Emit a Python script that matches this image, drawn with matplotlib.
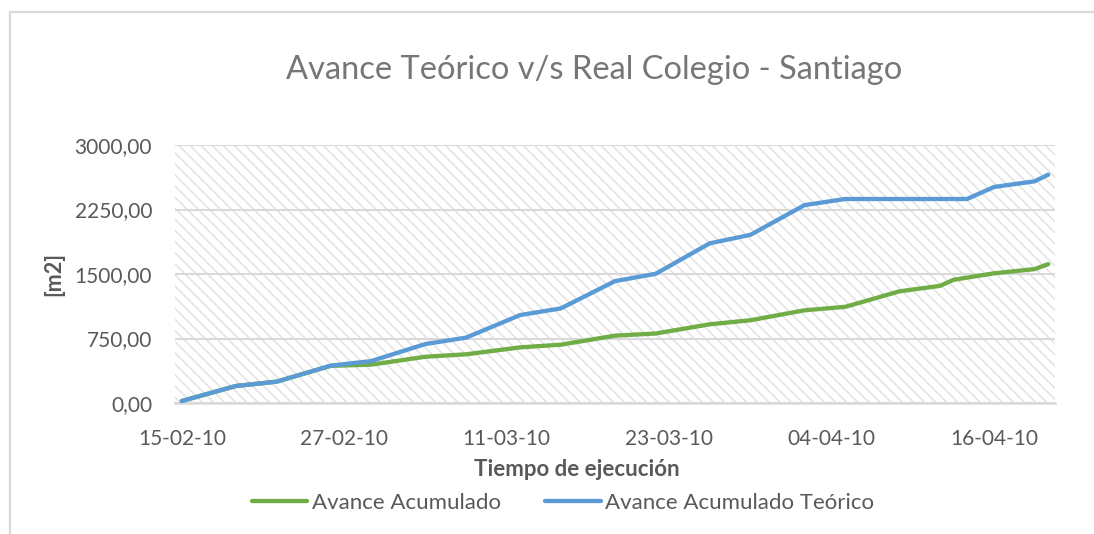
import matplotlib
matplotlib.use("Agg")
import matplotlib.pyplot as plt
import matplotlib.dates as mdates
from matplotlib.patches import Rectangle
import pandas as pd
import numpy as np

# fechas de los puntos de quiebre y avance acumulado [m2]
fechas = ['2010-02-15', '2010-02-19', '2010-02-22', '2010-02-26', '2010-03-01',
          '2010-03-05', '2010-03-08', '2010-03-12', '2010-03-15', '2010-03-19',
          '2010-03-22', '2010-03-26', '2010-03-29', '2010-04-02', '2010-04-05',
          '2010-04-09', '2010-04-12', '2010-04-13', '2010-04-14', '2010-04-16',
          '2010-04-19', '2010-04-20']
avance_real = [23, 198, 248, 432, 446, 538, 566, 647, 678, 783, 808, 915, 962,
               1078, 1118, 1298, 1362, 1432, 1458, 1508, 1557, 1615]
avance_teorico = [23, 198, 248, 434, 488, 686, 760, 1023, 1100, 1417, 1502, 1857,
                  1955, 2301, 2372, 2372, 2372, 2372, 2372, 2512, 2578, 2655]
ticks_y = [0, 750, 1500, 2250, 3000]

verde = "#70AD47"
azul = "#5B9BD5"
gris = "#595959"
font = "Lato"

x = pd.to_datetime(fechas)

fig = plt.figure(figsize=(10.94, 5.34), dpi=100)
fig.add_artist(Rectangle((10/1094, -0.1), 2, 1 - 12/534 + 0.1, transform=fig.transFigure,
                         fill=False, edgecolor="#d9d9d9", linewidth=1.6))

ax = fig.add_axes([175/1094, 1 - 403/534, 880/1094, 258/534])
plt.rcParams['hatch.linewidth'] = 1.1
ax.add_patch(Rectangle((0, 0), 1, 1, transform=ax.transAxes, facecolor="none",
                       edgecolor="#e2e2e2", linewidth=0, hatch="\\\\\\", zorder=0))

ax.plot(x, avance_real, color=verde, linewidth=3.1, label="Avance Acumulado",
        solid_capstyle="round", solid_joinstyle="round", zorder=3)
ax.plot(x, avance_teorico, color=azul, linewidth=3.1, label="Avance Acumulado Teórico",
        solid_capstyle="round", solid_joinstyle="round", zorder=4)

inicio = x[0] - pd.Timedelta(hours=12)
fin = x[-1] + pd.Timedelta(hours=12)
ax.set_xlim(inicio, fin)
ax.set_ylim(0, 3000)

ticks_x = pd.date_range(x[0], x[-1], freq="12D")
ax.set_xticks(ticks_x)
ax.xaxis.set_major_formatter(mdates.DateFormatter("%d-%m-%y"))
ax.set_yticks(ticks_y)
ax.set_yticklabels([("%.2f" % v).replace(".", ",") for v in ticks_y])
ax.tick_params(length=0, labelsize=15, labelcolor=gris)
ax.tick_params(axis="y", pad=16.5)
ax.tick_params(axis="x", pad=19)
for lbl in ax.get_xticklabels() + ax.get_yticklabels():
    lbl.set_fontname(font)

ax.grid(axis="y", color="#d9d9d9", linewidth=1.5)
ax.set_axisbelow(True)
for s in ["top", "right", "left"]:
    ax.spines[s].set_visible(False)
ax.spines["bottom"].set_color("#d9d9d9")
ax.spines["bottom"].set_linewidth(1.8)

fig.text(594/1094, 1 - 70/534, "Avance Teórico v/s Real Colegio - Santiago",
         ha="center", va="center", fontsize=23.5, color="#767676", fontname=font)
fig.text(54/1094, 1 - 274/534, "[m2]", rotation=90, ha="center", va="center",
         fontsize=15.5, color=gris, fontname=font, fontweight="bold")
fig.text(577/1094, 1 - 470/534, "Tiempo de ejecución", ha="center", va="center",
         fontsize=16, color=gris, fontname=font, fontweight="bold")

leg = fig.legend(loc="center", bbox_to_anchor=(563/1094, 1 - 503/534), ncol=2,
                 frameon=False, handlelength=2.5, handletextpad=0.2, columnspacing=2.0,
                 prop={"family": font, "size": 16})
for t in leg.get_texts():
    t.set_color(gris)

fig.savefig("out.png", dpi=100)
